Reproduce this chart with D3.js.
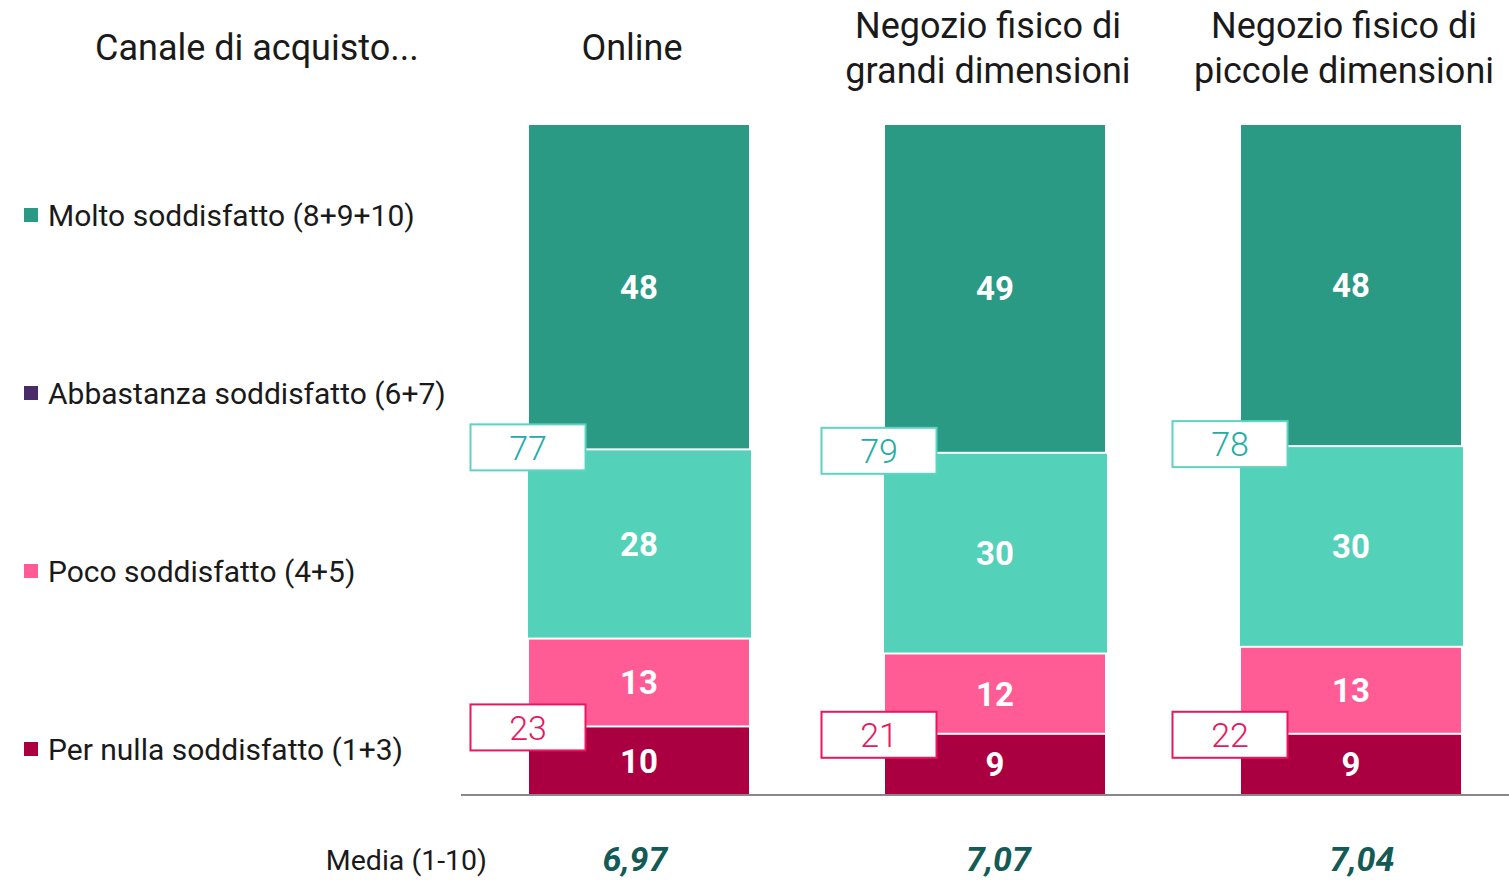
<!DOCTYPE html>
<html><head><meta charset="utf-8">
<script src="https://cdn.jsdelivr.net/npm/d3@7"></script>
<style>body{margin:0;background:#fff;}svg{display:block;font-family:Roboto,"Noto Sans",sans-serif;}</style>
</head><body><svg id="c" width="1509" height="880"></svg>
<script>
const categories = ["Online", "Negozio fisico di grandi dimensioni", "Negozio fisico di piccole dimensioni"];
const headerLines = [["Online"], ["Negozio fisico di", "grandi dimensioni"], ["Negozio fisico di", "piccole dimensioni"]];
const seriesNames = ["Molto soddisfatto (8+9+10)", "Abbastanza soddisfatto (6+7)", "Poco soddisfatto (4+5)", "Per nulla soddisfatto (1+3)"];
const molto = [48, 49, 48];
const abbastanza = [28, 30, 30];
const poco = [13, 12, 13];
const perNulla = [10, 9, 9];
const totSoddisfatti = [77, 79, 78];
const totInsoddisfatti = [23, 21, 22];
const media = ["6,97", "7,07", "7,04"];

const barColors = ["#2A9A84", "#54D1B9", "#FF5C95", "#AA0042"];
const legendColors = ["#2A9A84", "#4A2B6A", "#FF5C95", "#AA0042"];

const svg = d3.select("#c");
const x = d3.scaleBand().domain(categories).range([461, 1529]).paddingInner(0.382).paddingOuter(0.191);
const y = d3.scaleLinear().domain([0, 100]).range([794, 125]);
const boxX = d3.scalePoint().domain(categories).range([528, 1230]);
const mediaX = d3.scalePoint().domain(categories).range([635, 1362]);

// legend
const ly = d3.scalePoint().domain(seriesNames).range([215, 749]);
const lg = svg.append("g");
seriesNames.forEach((s, i) => {
  lg.append("rect").attr("x", 24).attr("y", ly(s) - 7).attr("width", 14).attr("height", 14).attr("fill", legendColors[i]);
  lg.append("text").attr("x", 48).attr("y", ly(s)).attr("dy", "0.35em").attr("font-size", 30).attr("fill", "#1a1a1a").text(s);
});

svg.append("text").attr("x", 95).attr("y", 47).attr("dy", "0.35em").attr("font-size", 36).attr("fill", "#1a1a1a").text("Canale di acquisto...");

// headers
categories.forEach((c, i) => {
  const lines = headerLines[i];
  const cx = x(c) + x.bandwidth() / 2 - 7;
  lines.forEach((l, j) => {
    const yy = lines.length === 1 ? 47 : 25 + j * 45;
    svg.append("text").attr("x", cx).attr("y", yy).attr("dy", "0.35em").attr("text-anchor", "middle")
      .attr("font-size", 36).attr("fill", "#1a1a1a").text(l);
  });
});

// bars
categories.forEach((c, i) => {
  const vals = [molto[i], abbastanza[i], poco[i], perNulla[i]];
  const sum = d3.sum(vals);
  const pct = vals.map(v => v / sum * 100);
  let cum = 100;
  const segs = [];
  pct.forEach((p, k) => { segs.push({k, top: cum, bottom: cum - p, v: vals[k]}); cum -= p; });
  const g = svg.append("g");
  segs.forEach(s => {
    const yt = y(s.top) + (s.k === 0 ? 0 : 1);
    const yb = y(s.bottom) - (s.k === 3 ? 0 : 1);
    const extra = s.k === 1 ? 1 : 0;
    g.append("rect").attr("x", x(c) - extra).attr("y", yt).attr("width", x.bandwidth() + extra * 3)
      .attr("height", yb - yt).attr("fill", barColors[s.k]);
    g.append("text").attr("x", x(c) + x.bandwidth() / 2).attr("y", (yt + yb) / 2).attr("dy", "0.36em")
      .attr("text-anchor", "middle").attr("font-size", 33).attr("font-weight", 700).attr("fill", "#fff").text(s.v);
  });
  const boxes = [
    {yc: y(segs[1].top) - 2, val: totSoddisfatti[i], stroke: "#5ED3C1", color: "#22ADA4"},
    {yc: y(segs[3].top) + 1, val: totInsoddisfatti[i], stroke: "#E8175D", color: "#E8175D"}
  ];
  boxes.forEach(b => {
    g.append("rect").attr("x", boxX(c) - 57.5).attr("y", b.yc - 23).attr("width", 115).attr("height", 46)
      .attr("fill", "#fff").attr("stroke", b.stroke).attr("stroke-width", 2);
    g.append("text").attr("x", boxX(c)).attr("y", b.yc).attr("dy", "0.36em").attr("text-anchor", "middle")
      .attr("font-size", 34).attr("font-weight", 300).attr("fill", b.color).text(b.val);
  });
  svg.append("text").attr("x", mediaX(c)).attr("y", 859).attr("dy", "0.36em")
    .attr("text-anchor", "middle").attr("font-size", 34).attr("font-weight", 700).attr("font-style", "italic")
    .attr("fill", "#145A55").text(media[i]);
});

svg.append("line").attr("x1", 461).attr("x2", 1509).attr("y1", 795).attr("y2", 795).attr("stroke", "#888").attr("stroke-width", 2);

svg.append("text").attr("x", 487).attr("y", 860).attr("dy", "0.35em").attr("text-anchor", "end")
  .attr("font-size", 28.5).attr("fill", "#1a1a1a").text("Media (1-10)");
</script></body></html>
